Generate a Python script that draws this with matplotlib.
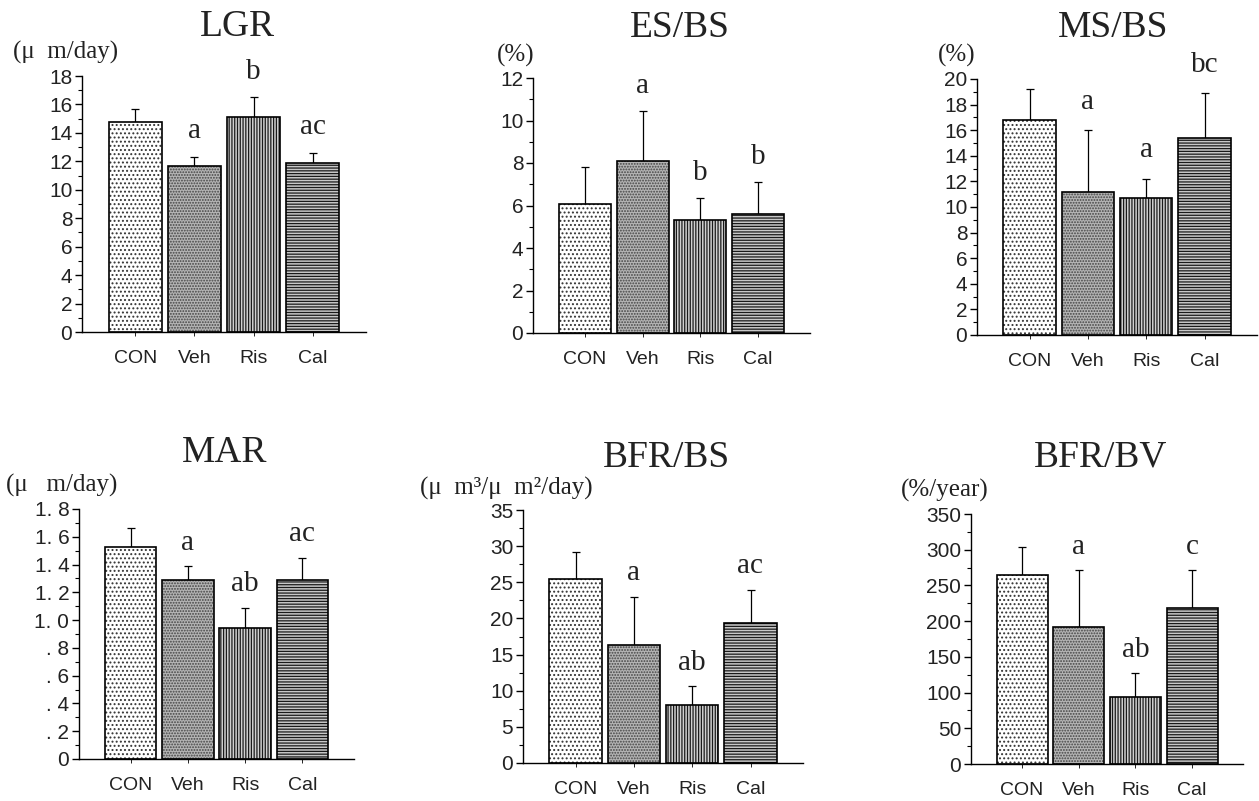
import matplotlib
matplotlib.use("Agg")
import matplotlib.pyplot as plt
from matplotlib.ticker import MultipleLocator, FixedLocator, FixedFormatter

# ---------------- data ----------------
groups = ["CON", "Veh", "Ris", "Cal"]

lgr_mean = [14.8, 11.7, 15.1, 11.9]
lgr_sd = [0.9, 0.6, 1.4, 0.7]
lgr_sig = ["", "a", "b", "ac"]

esbs_mean = [6.05, 8.1, 5.3, 5.6]
esbs_sd = [1.75, 2.35, 1.05, 1.5]
esbs_sig = ["", "a", "b", "b"]

msbs_mean = [16.8, 11.2, 10.7, 15.4]
msbs_sd = [2.4, 4.8, 1.5, 3.5]
msbs_sig = ["", "a", "a", "bc"]

mar_mean = [1.53, 1.29, 0.94, 1.29]
mar_sd = [0.13, 0.10, 0.15, 0.16]
mar_sig = ["", "a", "ab", "ac"]

bfrbs_mean = [25.4, 16.3, 8.0, 19.3]
bfrbs_sd = [3.8, 6.7, 2.6, 4.6]
bfrbs_sig = ["", "a", "ab", "ac"]

bfrbv_mean = [264, 192, 94, 219]
bfrbv_sd = [40, 79, 33, 52]
bfrbv_sig = ["", "a", "ab", "c"]

titles = ["LGR", "ES/BS", "MS/BS", "MAR", "BFR/BS", "BFR/BV"]
units = ["(\u03bc  m/day)", "(%)", "(%)", "(\u03bc   m/day)",
         "(\u03bc  m\u00b3/\u03bc  m\u00b2/day)", "(%/year)"]

mar_ticks = [0, 0.2, 0.4, 0.6, 0.8, 1.0, 1.2, 1.4, 1.6, 1.8]
mar_ticklabels = ["0", ". 2", ". 4", ". 6", ". 8", "1. 0", "1. 2", "1. 4", "1. 6", "1. 8"]

# ---------------- layout ----------------
W, H = 1259, 801
fig = plt.figure(figsize=(W / 100, H / 100), dpi=100)
fig.patch.set_facecolor("white")

plt.rcParams["hatch.linewidth"] = 0.9

SERIF = ["Liberation Serif", "DejaVu Serif"]
SANS = ["Liberation Sans Narrow", "Liberation Sans", "DejaVu Sans"]

# panel pixel boxes: (x_left, x_right, y_top, y_bottom)
boxes = [
    (82, 366, 76, 332),
    (533, 810, 78, 333),
    (977, 1257, 79, 335),
    (79, 354, 509, 759),
    (523, 803, 510, 763),
    (971, 1243, 514, 764),
]
title_pos = [(237, 27), (680, 28), (1113, 28), (225, 453), (666, 458), (1101, 457)]
unit_pos = [(13, 52), (497, 55), (938, 55), (6, 485), (420, 488), (901, 490)]

panels = [
    (lgr_mean, lgr_sd, lgr_sig, 18, 2, 1, None),
    (esbs_mean, esbs_sd, esbs_sig, 12, 2, 1, None),
    (msbs_mean, msbs_sd, msbs_sig, 20, 2, 1, None),
    (mar_mean, mar_sd, mar_sig, 1.8, 0.2, 0.1, (mar_ticks, mar_ticklabels)),
    (bfrbs_mean, bfrbs_sd, bfrbs_sig, 35, 5, 2.5, None),
    (bfrbv_mean, bfrbv_sd, bfrbv_sig, 350, 50, 25, None),
]
sig_offsets = [0.9, 0.55, 1.2, 0.075, 1.5, 15]

facecolors = ["white", "#b4b4b4", "#d0d0d0", "#c8c8c8"]
hatches = ["....", "......", "||||||", "------"]
hatch_colors = ["#333333", "#444444", "#1a1a1a", "#1a1a1a"]

x = list(range(len(groups)))

for i, (mean, sd, sig, ymax, major, minor, custom) in enumerate(panels):
    xl, xr, yt, yb = boxes[i]
    ax = fig.add_axes([xl / W, 1 - yb / H, (xr - xl) / W, (yb - yt) / H])
    ax.set_xlim(-0.9, 3.9)
    ax.set_ylim(0, ymax)
    for spine in ["top", "right"]:
        ax.spines[spine].set_visible(False)
    ax.spines["left"].set_linewidth(1.0)
    ax.spines["bottom"].set_linewidth(1.0)

    for xi, m, fc, h, hc in zip(x, mean, facecolors, hatches, hatch_colors):
        ax.bar(xi, m, width=0.9, color=fc, edgecolor=hc,
               hatch=h, linewidth=0, zorder=2)
        ax.bar(xi, m, width=0.9, fill=False, edgecolor="black",
               linewidth=1.2, zorder=3)
    ax.errorbar(x, mean, yerr=[[0] * len(sd), sd], fmt="none",
                ecolor="black", elinewidth=0.9, capsize=3, capthick=0.9, zorder=1)

    for xi, m, s, lab in zip(x, mean, sd, sig):
        if lab:
            ax.text(xi, m + s + sig_offsets[i], lab, ha="center", va="bottom",
                    fontsize=21, family=SERIF, color="#222222")

    if custom is not None:
        ax.yaxis.set_major_locator(FixedLocator(custom[0]))
        ax.yaxis.set_major_formatter(FixedFormatter(custom[1]))
    else:
        ax.yaxis.set_major_locator(MultipleLocator(major))
    ax.yaxis.set_minor_locator(MultipleLocator(minor))
    ax.tick_params(axis="y", which="major", direction="out", length=5, width=1,
                   pad=2, labelsize=15, labelcolor="#222222")
    ax.tick_params(axis="y", which="minor", direction="out", length=3, width=0.8)
    for t in ax.get_yticklabels():
        t.set_family(SANS)

    ax.set_xticks(x)
    ax.set_xticklabels(groups)
    ax.tick_params(axis="x", direction="out", length=3, width=0.6, pad=10,
                   labelsize=14, labelcolor="#222222")
    for t in ax.get_xticklabels():
        t.set_family(SANS)

    tx, ty = title_pos[i]
    fig.text(tx / W, 1 - ty / H, titles[i], ha="center", va="center",
             fontsize=27, family=SERIF, color="#222222")
    ux, uy = unit_pos[i]
    fig.text(ux / W, 1 - uy / H, units[i], ha="left", va="center",
             fontsize=18, family=SERIF, color="#222222")

fig.savefig("out.png", dpi=100, facecolor="white")
